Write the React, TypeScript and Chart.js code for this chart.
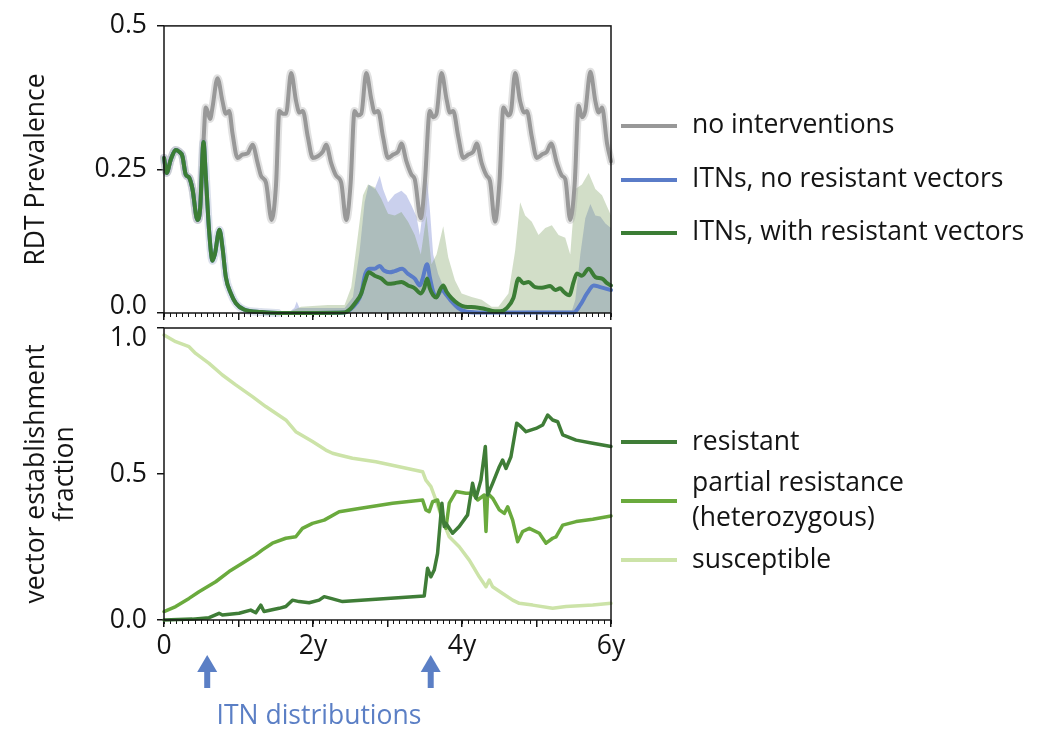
import React, { useEffect, useRef } from 'react';
import { Chart, registerables } from 'chart.js';

Chart.register(...registerables);

const FONT_FAMILY = '"Open Sans", "Noto Sans", sans-serif';
const FONT_SIZE = 26.5;
const TEXT = '#141414';

// ---------- axes ----------
const xMajorTicks = [0, 1, 2, 3, 4, 5, 6];
const xTickLabels = ['0', '', '2y', '', '4y', '', '6y'];
const monthsPerYear = 12;
const yTopTicks = [0, 0.25, 0.5];
const yTopLabels = ['0.0', '0.25', '0.5'];
const yBottomTicks = [0, 0.5, 1];
const yBottomLabels = ['0.0', '0.5', '1.0'];
const itnDistributionTimes = [0.58, 3.58];

// ---------- top panel: RDT prevalence (years, prevalence) ----------
const sharedStart: [number, number][] = [
  [0, 0.27], [0.036, 0.244], [0.09, 0.267], [0.157, 0.284], [0.202, 0.281], [0.247, 0.273],
  [0.292, 0.241], [0.337, 0.236], [0.382, 0.216], [0.449, 0.162], [0.485, 0.182], [0.53, 0.298],
];

const noInterventions: [number, number][] = [
  [0.561, 0.358], [0.583, 0.352], [0.619, 0.338], [0.651, 0.358], [0.718, 0.409], [0.785, 0.369],
  [0.83, 0.347], [0.875, 0.352], [0.92, 0.3125], [0.987, 0.27], [1.055, 0.276], [1.122, 0.278],
  [1.189, 0.293], [1.257, 0.261], [1.302, 0.239], [1.369, 0.227], [1.445, 0.162], [1.504, 0.224],
  [1.548, 0.352], [1.593, 0.347], [1.638, 0.347], [1.706, 0.418], [1.773, 0.369], [1.818, 0.349],
  [1.863, 0.352], [1.93, 0.307], [1.997, 0.27], [2.065, 0.273], [2.132, 0.281], [2.177, 0.293],
  [2.244, 0.261], [2.311, 0.239], [2.379, 0.227], [2.446, 0.162], [2.504, 0.224], [2.558, 0.352],
  [2.603, 0.344], [2.648, 0.347], [2.715, 0.418], [2.783, 0.372], [2.828, 0.349], [2.873, 0.352],
  [2.94, 0.307], [3.007, 0.27], [3.075, 0.276], [3.142, 0.281], [3.187, 0.295], [3.254, 0.264],
  [3.321, 0.241], [3.366, 0.233], [3.447, 0.165], [3.501, 0.227], [3.568, 0.352], [3.613, 0.341],
  [3.658, 0.347], [3.725, 0.418], [3.793, 0.372], [3.838, 0.349], [3.882, 0.352], [3.95, 0.307],
  [4.017, 0.27], [4.084, 0.276], [4.152, 0.281], [4.197, 0.295], [4.264, 0.261], [4.331, 0.239],
  [4.376, 0.23], [4.443, 0.159], [4.502, 0.227], [4.556, 0.358], [4.623, 0.344], [4.659, 0.352],
  [4.713, 0.418], [4.78, 0.369], [4.838, 0.349], [4.87, 0.352], [4.937, 0.307], [5.004, 0.27],
  [5.072, 0.276], [5.139, 0.281], [5.197, 0.295], [5.274, 0.261], [5.341, 0.239], [5.386, 0.233],
  [5.453, 0.162], [5.512, 0.224], [5.566, 0.361], [5.61, 0.341], [5.655, 0.352], [5.723, 0.42],
  [5.79, 0.369], [5.835, 0.349], [5.88, 0.358], [5.947, 0.295], [6.0, 0.264],
];

const itnNoResistance: [number, number][] = [
  [0.561, 0.239], [0.606, 0.142], [0.651, 0.091], [0.682, 0.102], [0.745, 0.145], [0.785, 0.114],
  [0.83, 0.0625], [0.898, 0.034], [0.965, 0.017], [1.077, 0.0057], [1.302, 0.0017], [1.526, 0],
  [2.424, 0.001], [2.491, 0.005], [2.581, 0.017], [2.648, 0.034], [2.702, 0.068], [2.76, 0.077],
  [2.828, 0.077], [2.895, 0.082], [2.953, 0.074], [3.03, 0.071], [3.097, 0.073], [3.196, 0.077],
  [3.276, 0.068], [3.366, 0.06], [3.434, 0.048], [3.465, 0.057], [3.532, 0.085], [3.568, 0.0625],
  [3.613, 0.037], [3.658, 0.028], [3.725, 0.04], [3.793, 0.031], [3.86, 0.02], [3.95, 0.0085],
  [4.039, 0.003], [4.219, 0.001], [5.498, 0.001], [5.588, 0.014], [5.678, 0.034], [5.768, 0.048],
  [5.857, 0.045], [6.0, 0.04],
];

const itnWithResistance: [number, number][] = [
  [0.561, 0.239], [0.606, 0.142], [0.651, 0.091], [0.682, 0.102], [0.745, 0.145], [0.785, 0.114],
  [0.83, 0.0625], [0.898, 0.034], [0.965, 0.017], [1.077, 0.0057], [1.302, 0.0017], [1.526, 0],
  [2.424, 0.001], [2.491, 0.006], [2.581, 0.02], [2.648, 0.034], [2.702, 0.057], [2.747, 0.071],
  [2.828, 0.065], [2.917, 0.06], [3.007, 0.051], [3.097, 0.052], [3.187, 0.054], [3.276, 0.048],
  [3.366, 0.043], [3.447, 0.034], [3.492, 0.043], [3.532, 0.06], [3.568, 0.043], [3.613, 0.031],
  [3.658, 0.027], [3.703, 0.04], [3.748, 0.048], [3.793, 0.037], [3.86, 0.026], [3.95, 0.016],
  [4.039, 0.011], [4.174, 0.01], [4.309, 0.007], [4.443, 0.003], [4.511, 0.003], [4.6, 0.0085],
  [4.69, 0.026], [4.758, 0.06], [4.825, 0.052], [4.892, 0.054], [4.982, 0.045], [5.072, 0.044],
  [5.184, 0.047], [5.251, 0.04], [5.319, 0.043], [5.364, 0.037], [5.44, 0.031], [5.498, 0.054],
  [5.543, 0.069], [5.61, 0.065], [5.7, 0.077], [5.79, 0.0625], [5.88, 0.06], [5.947, 0.052],
  [6.0, 0.048],
];

// upper edges of the run-to-run ranges
const itnNoResistanceUpper: [number, number][] = [
  [1.661, 0], [1.75, 0.0085], [1.782, 0.02], [1.818, 0.0085], [1.975, 0.0085], [2.424, 0.0085],
  [2.536, 0.028], [2.626, 0.108], [2.693, 0.193], [2.747, 0.224], [2.828, 0.216], [2.895, 0.239],
  [2.94, 0.216], [3.007, 0.193], [3.097, 0.207], [3.187, 0.213], [3.254, 0.205], [3.321, 0.1875],
  [3.389, 0.168], [3.434, 0.136], [3.478, 0.182], [3.523, 0.244], [3.568, 0.182], [3.613, 0.102],
  [3.68, 0.068], [3.77, 0.04], [3.905, 0.017], [4.084, 0.003], [4.443, 0.002], [4.668, 0.003],
  [4.892, 0.0045], [5.476, 0.0045], [5.521, 0.023], [5.588, 0.102], [5.655, 0.165], [5.723, 0.19],
  [5.79, 0.17], [5.857, 0.168], [5.925, 0.156], [6.0, 0.148],
];

const itnWithResistanceUpper: [number, number][] = [
  [1.661, 0.001], [1.84, 0.011], [2.199, 0.014], [2.424, 0.014], [2.513, 0.045], [2.603, 0.136],
  [2.671, 0.205], [2.738, 0.224], [2.828, 0.219], [2.917, 0.199], [3.007, 0.173], [3.097, 0.17],
  [3.187, 0.176], [3.276, 0.159], [3.366, 0.136], [3.447, 0.102], [3.523, 0.17], [3.59, 0.085],
  [3.658, 0.102], [3.748, 0.151], [3.815, 0.097], [3.905, 0.057], [3.995, 0.034], [4.129, 0.028],
  [4.264, 0.023], [4.399, 0.011], [4.488, 0.011], [4.623, 0.034], [4.713, 0.108], [4.78, 0.193],
  [4.848, 0.17], [4.937, 0.159], [5.027, 0.136], [5.117, 0.148], [5.206, 0.153], [5.296, 0.136],
  [5.386, 0.131], [5.453, 0.102], [5.521, 0.216], [5.61, 0.224], [5.7, 0.244], [5.79, 0.216],
  [5.88, 0.205], [6.0, 0.17],
];

// ---------- bottom panel: vector establishment fraction ----------
const resistant: [number, number][] = [
  [0, 0], [0.381, 0.003], [0.605, 0.008], [0.739, 0.023], [0.784, 0.017], [1.008, 0.023],
  [1.164, 0.034], [1.232, 0.025], [1.299, 0.051], [1.343, 0.029], [1.545, 0.04], [1.635, 0.046],
  [1.724, 0.068], [1.814, 0.063], [1.948, 0.059], [2.082, 0.068], [2.15, 0.08], [2.239, 0.074],
  [2.396, 0.063], [2.844, 0.071], [3.493, 0.082], [3.538, 0.177], [3.583, 0.148], [3.627, 0.171],
  [3.672, 0.228], [3.73, 0.4], [3.762, 0.32], [3.784, 0.331], [3.874, 0.297], [3.963, 0.32],
  [4.075, 0.36], [4.142, 0.468], [4.187, 0.417], [4.254, 0.479], [4.313, 0.594], [4.344, 0.428],
  [4.411, 0.468], [4.501, 0.525], [4.545, 0.548], [4.59, 0.519], [4.657, 0.559], [4.734, 0.674],
  [4.792, 0.662], [4.859, 0.645], [4.993, 0.656], [5.083, 0.668], [5.15, 0.702], [5.217, 0.685],
  [5.284, 0.679], [5.352, 0.634], [5.531, 0.616], [5.755, 0.605], [6.0, 0.594],
];

const partialResistance: [number, number][] = [
  [0, 0.029], [0.157, 0.046], [0.336, 0.074], [0.47, 0.097], [0.694, 0.131], [0.873, 0.166],
  [1.052, 0.194], [1.232, 0.223], [1.321, 0.24], [1.455, 0.263], [1.635, 0.28], [1.769, 0.285],
  [1.858, 0.314], [1.993, 0.331], [2.15, 0.342], [2.351, 0.371], [2.62, 0.382], [3.068, 0.4],
  [3.471, 0.411], [3.515, 0.377], [3.56, 0.371], [3.605, 0.405], [3.672, 0.411], [3.739, 0.342],
  [3.784, 0.314], [3.829, 0.4], [3.919, 0.44], [4.053, 0.434], [4.142, 0.434], [4.21, 0.411],
  [4.299, 0.428], [4.322, 0.303], [4.344, 0.434], [4.411, 0.417], [4.501, 0.377], [4.568, 0.365],
  [4.613, 0.388], [4.68, 0.342], [4.747, 0.268], [4.814, 0.303], [4.904, 0.314], [5.038, 0.297],
  [5.128, 0.263], [5.217, 0.28], [5.262, 0.285], [5.352, 0.325], [5.531, 0.337], [5.755, 0.345],
  [6.0, 0.356],
];

const susceptible: [number, number][] = [
  [0, 0.976], [0.157, 0.953], [0.336, 0.936], [0.425, 0.913], [0.605, 0.879], [0.784, 0.839],
  [0.963, 0.805], [1.187, 0.765], [1.366, 0.731], [1.635, 0.685], [1.769, 0.645], [1.993, 0.611],
  [2.172, 0.582], [2.262, 0.571], [2.351, 0.565], [2.53, 0.554], [2.844, 0.542], [3.157, 0.525],
  [3.471, 0.508], [3.515, 0.479], [3.583, 0.457], [3.65, 0.411], [3.739, 0.342], [3.829, 0.285],
  [3.963, 0.251], [4.098, 0.205], [4.232, 0.148], [4.322, 0.114], [4.366, 0.137], [4.411, 0.114],
  [4.545, 0.091], [4.68, 0.068], [4.769, 0.057], [4.949, 0.051], [5.217, 0.04], [5.396, 0.046],
  [5.755, 0.051], [6.0, 0.057],
];

const toPoints = (rows: [number, number][]) => rows.map(([x, y]) => ({ x, y }));

const font = (size: number, lineHeight: number | string = 1.2) => ({
  family: FONT_FAMILY, size, weight: 'normal' as const, lineHeight,
});

const framePlugin = {
  id: 'frame',
  afterDatasetsDraw(chart: any) {
    const { ctx, chartArea: a } = chart;
    ctx.save();
    ctx.strokeStyle = TEXT;
    ctx.lineWidth = 1.5;
    ctx.strokeRect(a.left, a.top, a.right - a.left, a.bottom - a.top);
    ctx.restore();
  },
};

const sideLegendPlugin = {
  id: 'sideLegend',
  afterDraw(chart: any, _args: any, opts: any) {
    const { ctx, chartArea: a } = chart;
    const cy = (a.top + a.bottom) / 2;
    const items = chart.data.datasets.filter((d: any) => d.inLegend);
    ctx.save();
    ctx.font = `${FONT_SIZE}px ${FONT_FAMILY}`;
    ctx.textBaseline = 'middle';
    ctx.textAlign = 'left';
    items.forEach((d: any, i: number) => {
      const y = cy + opts.offsets[i];
      ctx.strokeStyle = d.borderColor;
      ctx.lineWidth = 4;
      ctx.beginPath();
      ctx.moveTo(a.right + 10, y);
      ctx.lineTo(a.right + 66, y);
      ctx.stroke();
      ctx.fillStyle = TEXT;
      const lines = String(d.label).split('\n');
      lines.forEach((t: string, j: number) => {
        ctx.fillText(t, a.right + 81, y + (j - (lines.length - 1) / 2) * 35);
      });
    });
    ctx.restore();
  },
};

const arrowsPlugin = {
  id: 'itnArrows',
  afterDraw(chart: any, _args: any, opts: any) {
    if (!opts || !opts.times) return;
    const { ctx, chartArea: a } = chart;
    const xs = chart.scales.x;
    ctx.save();
    ctx.fillStyle = opts.color;
    const pxs = opts.times.map((t: number) => xs.getPixelForValue(t));
    pxs.forEach((px: number) => {
      ctx.fillRect(px - 3, a.bottom + 51, 6, 17);
      ctx.beginPath();
      ctx.moveTo(px - 10, a.bottom + 52);
      ctx.lineTo(px + 10, a.bottom + 52);
      ctx.lineTo(px, a.bottom + 35);
      ctx.closePath();
      ctx.fill();
    });
    const mid = pxs.reduce((s: number, v: number) => s + v, 0) / pxs.length;
    ctx.font = `${FONT_SIZE}px ${FONT_FAMILY}`;
    ctx.textAlign = 'center';
    ctx.textBaseline = 'middle';
    ctx.fillText(opts.text, mid, a.bottom + 96);
    ctx.restore();
  },
};

function xScales(showLabels: boolean) {
  return {
    xMinor: {
      type: 'linear',
      min: 0,
      max: 6,
      position: 'bottom',
      weight: 0,
      afterBuildTicks: (s: any) => {
        const t: { value: number }[] = [];
        for (let m = 0; m <= 6 * monthsPerYear; m++) t.push({ value: m / monthsPerYear });
        s.ticks = t;
      },
      ticks: { display: false, autoSkip: false },
      grid: { drawOnChartArea: false, tickLength: 4, color: TEXT, lineWidth: 1 },
      border: { display: false },
      afterFit: (s: any) => {
        s.height = 0;
      },
    },
    x: {
      type: 'linear',
      min: 0,
      max: 6,
      position: 'bottom',
      weight: 1,
      afterBuildTicks: (s: any) => {
        s.ticks = xMajorTicks.map((v) => ({ value: v }));
      },
      ticks: {
        autoSkip: false,
        maxRotation: 0,
        padding: 4,
        color: TEXT,
        font: font(FONT_SIZE),
        callback: (_v: any, i: number) => (showLabels ? xTickLabels[i] : ''),
      },
      grid: { drawOnChartArea: false, tickLength: 7, color: TEXT, lineWidth: 1.5 },
      border: { display: false },
      afterFit: (s: any) => {
        s.height = showLabels ? 60 : 0;
      },
    },
  };
}

// nudge (px) moves a tick label off its tick, as the reference separates the two panels' end labels
function yScale(min: number, max: number, ticks: number[], labels: string[], nudge: number[], title: string | string[]) {
  return {
    min,
    max,
    afterBuildTicks: (s: any) => {
      s.ticks = ticks.map((v) => ({ value: v }));
    },
    ticks: {
      color: TEXT,
      font: (c: any) => {
        const n = nudge[c.index] || 0;
        return n ? font(FONT_SIZE, `${Math.abs(n) * 2}px`) : font(FONT_SIZE);
      },
      padding: 10,
      callback: (_v: any, i: number) => {
        const n = nudge[i] || 0;
        if (n < 0) return [labels[i], ''];
        if (n > 0) return ['', labels[i]];
        return labels[i];
      },
    },
    grid: { drawOnChartArea: false, tickLength: 7, color: TEXT, lineWidth: 1.5 },
    border: { display: false },
    title: { display: true, text: title, color: TEXT, font: font(FONT_SIZE, 1.1), padding: { top: 22, bottom: 0 } },
    afterFit: (s: any) => {
      s.width = 164;
    },
  };
}

const lineStyle = {
  pointRadius: 0,
  fill: false,
  clip: false,
  borderJoinStyle: 'round',
  borderCapStyle: 'round',
  cubicInterpolationMode: 'monotone',
};

export default function App() {
  const topRef = useRef<HTMLCanvasElement>(null);
  const bottomRef = useRef<HTMLCanvasElement>(null);

  useEffect(() => {
    const gray = '#989898';
    const blue = '#5a7cc8';
    const green = '#3b7d35';

    const top = new Chart(topRef.current as HTMLCanvasElement, {
      type: 'line',
      data: {
        datasets: [
          {
            ...lineStyle, label: 'no interventions', inLegend: true, order: 2,
            data: toPoints([...sharedStart, ...noInterventions]),
            borderColor: gray, borderWidth: 4,
          },
          {
            ...lineStyle, label: 'ITNs, no resistant vectors', inLegend: true, order: 1,
            data: toPoints([...sharedStart, ...itnNoResistance]),
            borderColor: blue, borderWidth: 4,
          },
          {
            ...lineStyle, label: 'ITNs, with resistant vectors', inLegend: true, order: 0,
            data: toPoints([...sharedStart, ...itnWithResistance]),
            borderColor: green, borderWidth: 4,
          },
          {
            ...lineStyle, label: 'no interventions range', order: 3,
            data: toPoints([...sharedStart, ...noInterventions]),
            borderColor: 'rgba(170,170,170,0.35)', borderWidth: 8,
          },
          {
            ...lineStyle, label: 'ITNs early range', order: 3,
            data: toPoints([...sharedStart, ...itnWithResistance.slice(0, 12)]),
            borderColor: 'rgba(95,120,170,0.22)', borderWidth: 8,
          },
          {
            label: 'ITNs, with resistant vectors range', order: 4,
            data: toPoints(itnWithResistanceUpper),
            borderWidth: 0, borderColor: 'rgba(0,0,0,0)', pointRadius: 0,
            fill: 'origin', backgroundColor: 'rgba(105,145,72,0.3)',
          },
          {
            label: 'ITNs, no resistant vectors range', order: 5,
            data: toPoints(itnNoResistanceUpper),
            borderWidth: 0, borderColor: 'rgba(0,0,0,0)', pointRadius: 0,
            fill: 'origin', backgroundColor: 'rgba(80,100,195,0.3)',
          },
        ] as any,
      },
      options: {
        responsive: false,
        animation: false,
        events: [],
        layout: { padding: { top: 20, bottom: 729 - 313, left: 0, right: 1037 - 611 } },
        plugins: {
          legend: { display: false },
          tooltip: { enabled: false },
          sideLegend: { offsets: [-43.5, 10.5, 63.5] },
        } as any,
        scales: {
          ...xScales(false),
          y: yScale(0, 0.5, yTopTicks, yTopLabels, [-7, 0, 0], 'RDT Prevalence'),
        } as any,
      },
      plugins: [framePlugin, sideLegendPlugin],
    });

    const bottom = new Chart(bottomRef.current as HTMLCanvasElement, {
      type: 'line',
      data: {
        datasets: [
          {
            ...lineStyle, label: 'resistant', inLegend: true, order: 0,
            data: toPoints(resistant),
            borderColor: '#3f7d37', borderWidth: 3.5, cubicInterpolationMode: 'default', tension: 0,
          },
          {
            ...lineStyle, label: 'partial resistance\n(heterozygous)', inLegend: true, order: 1,
            data: toPoints(partialResistance),
            borderColor: '#6aaa3d', borderWidth: 3.5, cubicInterpolationMode: 'default', tension: 0,
          },
          {
            ...lineStyle, label: 'susceptible', inLegend: true, order: 2,
            data: toPoints(susceptible),
            borderColor: '#cce3a8', borderWidth: 3.5, cubicInterpolationMode: 'default', tension: 0,
          },
        ] as any,
      },
      options: {
        responsive: false,
        animation: false,
        events: [],
        layout: { padding: { top: 328, bottom: 729 - 620 - 60, left: 0, right: 1037 - 611 } },
        plugins: {
          legend: { display: false },
          tooltip: { enabled: false },
          sideLegend: { offsets: [-32, 27, 86] },
          itnArrows: { times: itnDistributionTimes, color: '#5b7fc5', text: 'ITN distributions' },
        } as any,
        scales: {
          ...xScales(true),
          y: yScale(0, 1, yBottomTicks, yBottomLabels, [0, 0, 10], ['vector establishment', 'fraction']),
        } as any,
      },
      plugins: [framePlugin, sideLegendPlugin, arrowsPlugin],
    });

    return () => {
      top.destroy();
      bottom.destroy();
    };
  }, []);

  return (
    <div style={{ position: 'fixed', left: 0, top: 0, width: 1037, height: 729, background: '#ffffff' }}>
      <canvas ref={bottomRef} width={1037} height={729} style={{ position: 'absolute', left: 0, top: 0 }} />
      <canvas ref={topRef} width={1037} height={729} style={{ position: 'absolute', left: 0, top: 0 }} />
    </div>
  );
}
